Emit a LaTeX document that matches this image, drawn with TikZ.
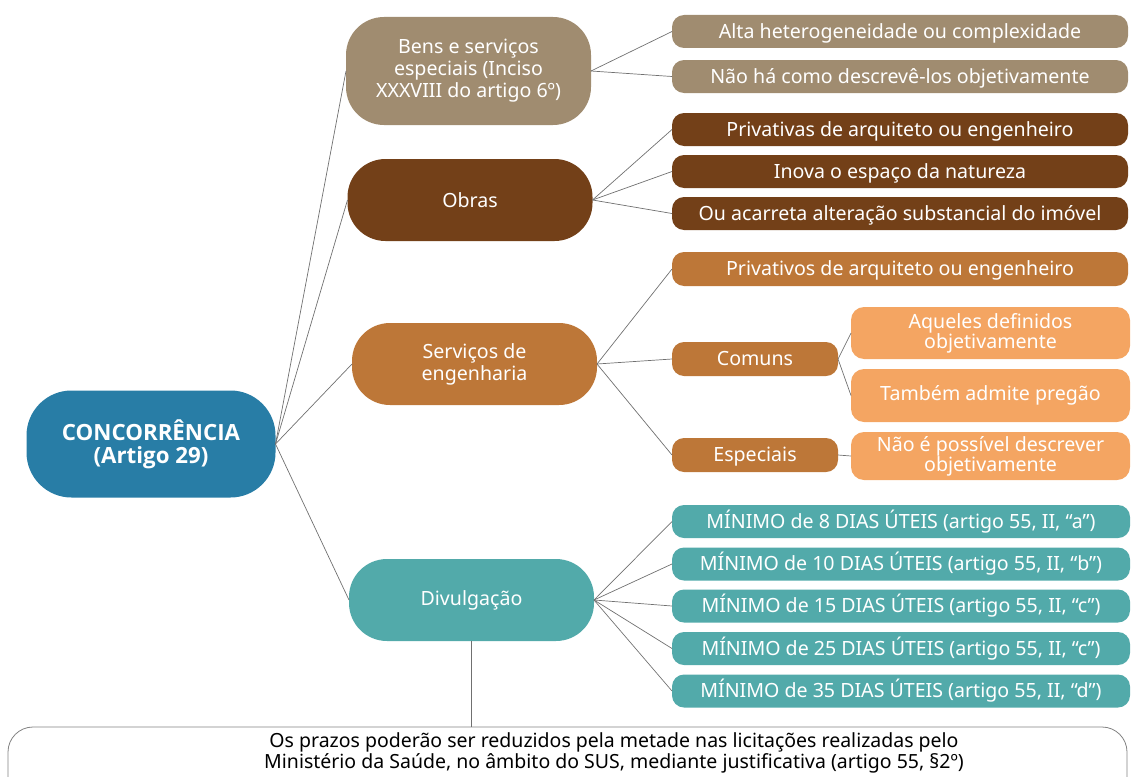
\documentclass[tikz,border=0pt]{standalone}
\usepackage{fontspec}
\setmainfont{Noto Sans}
\newfontfamily\heavyfont{Open Sans}

% palette
\definecolor{rootblue}{RGB}{40,125,166}
\definecolor{tanbox}{RGB}{160,140,112}
\definecolor{darkbrown}{RGB}{115,64,24}
\definecolor{copper}{RGB}{189,119,56}
\definecolor{peach}{RGB}{244,165,98}
\definecolor{teal}{RGB}{82,170,170}
\definecolor{linkgray}{RGB}{112,112,112}
\definecolor{framegray}{RGB}{130,130,130}

\begin{document}
\begin{tikzpicture}[x=1pt,y=-1pt,
  box/.style={draw=none, text=white, align=center, inner sep=0pt, outer sep=0pt,
              font=\fontsize{19.6}{22}\selectfont},
  oneline/.style={text height=15pt, text depth=2pt},
  topic/.style={box, rounded corners=38pt, minimum width=245pt, minimum height=82pt},
  leaf/.style={box, oneline, rounded corners=12pt, minimum width=456pt, minimum height=33pt},
  subleaf/.style={box, rounded corners=13pt, minimum width=279pt,
                  font=\fontsize{19.6}{20}\selectfont},
  small/.style={box, oneline, rounded corners=12pt, minimum width=166pt, minimum height=34pt},
  link/.style={draw=linkgray, line width=0.7pt}]

\useasboundingbox (0,0) rectangle (1131,776);

% central topic
\node[box, fill=rootblue, rounded corners=45pt, minimum width=249pt, minimum height=107pt,
      font=\heavyfont\bfseries\fontsize{22.3}{23}\selectfont] (root) at (151,444)
  {CONCORRÊNCIA\\(Artigo 29)};

% main branches
\node[topic, fill=tanbox, minimum height=108pt] (bens) at (468.5,71)
  {Bens e serviços\\especiais (Inciso\\XXXVIII do artigo 6º)};
\node[topic, fill=darkbrown] (obras) at (470,200) {Obras};
\node[topic, fill=copper] (serv) at (474.5,364) {Serviços de\\engenharia};
\node[topic, fill=teal] (divul) at (471.5,600) {Divulgação};

% bens e serviços especiais
\node[leaf, fill=tanbox] (b1) at (900,31.5) {Alta heterogeneidade ou complexidade};
\node[leaf, fill=tanbox] (b2) at (900,76.5) {Não há como descrevê-los objetivamente};

% obras
\node[leaf, fill=darkbrown] (o1) at (900,129.5) {Privativas de arquiteto ou engenheiro};
\node[leaf, fill=darkbrown] (o2) at (900,171.5) {Inova o espaço da natureza};
\node[leaf, fill=darkbrown] (o3) at (900,213.5) {Ou acarreta alteração substancial do imóvel};

% serviços de engenharia
\node[leaf, fill=copper, minimum height=34pt] (s1) at (900,269) {Privativos de arquiteto ou engenheiro};
\node[small, fill=copper] (comuns) at (755,359) {Comuns};
\node[small, fill=copper] (espec) at (755,455) {Especiais};
\node[subleaf, fill=peach, minimum height=52pt] (c1) at (990.5,333) {Aqueles definidos\\objetivamente};
\node[subleaf, fill=peach, minimum height=53pt] (c2) at (990.5,395.5) {Também admite pregão};
\node[subleaf, fill=peach, minimum height=48pt] (e1) at (990.5,456) {Não é possível descrever\\objetivamente};

% divulgação
\node[leaf, fill=teal, minimum width=458pt] (d1) at (901,521.5) {MÍNIMO de 8 DIAS ÚTEIS (artigo 55, II, “a”)};
\node[leaf, fill=teal, minimum width=458pt] (d2) at (901,564) {MÍNIMO de 10 DIAS ÚTEIS (artigo 55, II, “b”)};
\node[leaf, fill=teal, minimum width=458pt] (d3) at (901,606) {MÍNIMO de 15 DIAS ÚTEIS (artigo 55, II, “c”)};
\node[leaf, fill=teal, minimum width=458pt] (d4) at (901,648.5) {MÍNIMO de 25 DIAS ÚTEIS (artigo 55, II, “c”)};
\node[leaf, fill=teal, minimum width=458pt] (d5) at (901,691) {MÍNIMO de 35 DIAS ÚTEIS (artigo 55, II, “d”)};

% footnote frame, open at the bottom edge
\begin{scope}
  \clip (0,0) rectangle (1131,776);
  \node[draw=framegray, line width=0.8pt, rounded corners=25pt, inner sep=0pt,
        minimum width=1119pt, minimum height=80pt] (note) at (567.5,767) {};
\end{scope}
\node[text=black, align=center, inner sep=0pt,
      font=\fontsize{19.5}{19}\selectfont] (notetext) at (614,753)
  {Os prazos poderão ser reduzidos pela metade nas licitações realizadas pelo\\
   Ministério da Saúde, no âmbito do SUS, mediante justificativa (artigo 55, §2º)};

% connectors
\foreach \t in {bens,obras,serv,divul}
  \draw[link] (root.east) -- (\t.west);
\foreach \t in {b1,b2}
  \draw[link] (bens.east) -- (\t.west);
\foreach \t in {o1,o2,o3}
  \draw[link] (obras.east) -- (\t.west);
\foreach \t in {s1,comuns,espec}
  \draw[link] (serv.east) -- (\t.west);
\foreach \t in {c1,c2}
  \draw[link] (comuns.east) -- (\t.west);
\draw[link] (espec.east) -- (e1.west);
\foreach \t in {d1,d2,d3,d4,d5}
  \draw[link] (divul.east) -- (\t.west);
\draw[link] (divul.south) -- (note.north -| divul.south);

\end{tikzpicture}
\end{document}
